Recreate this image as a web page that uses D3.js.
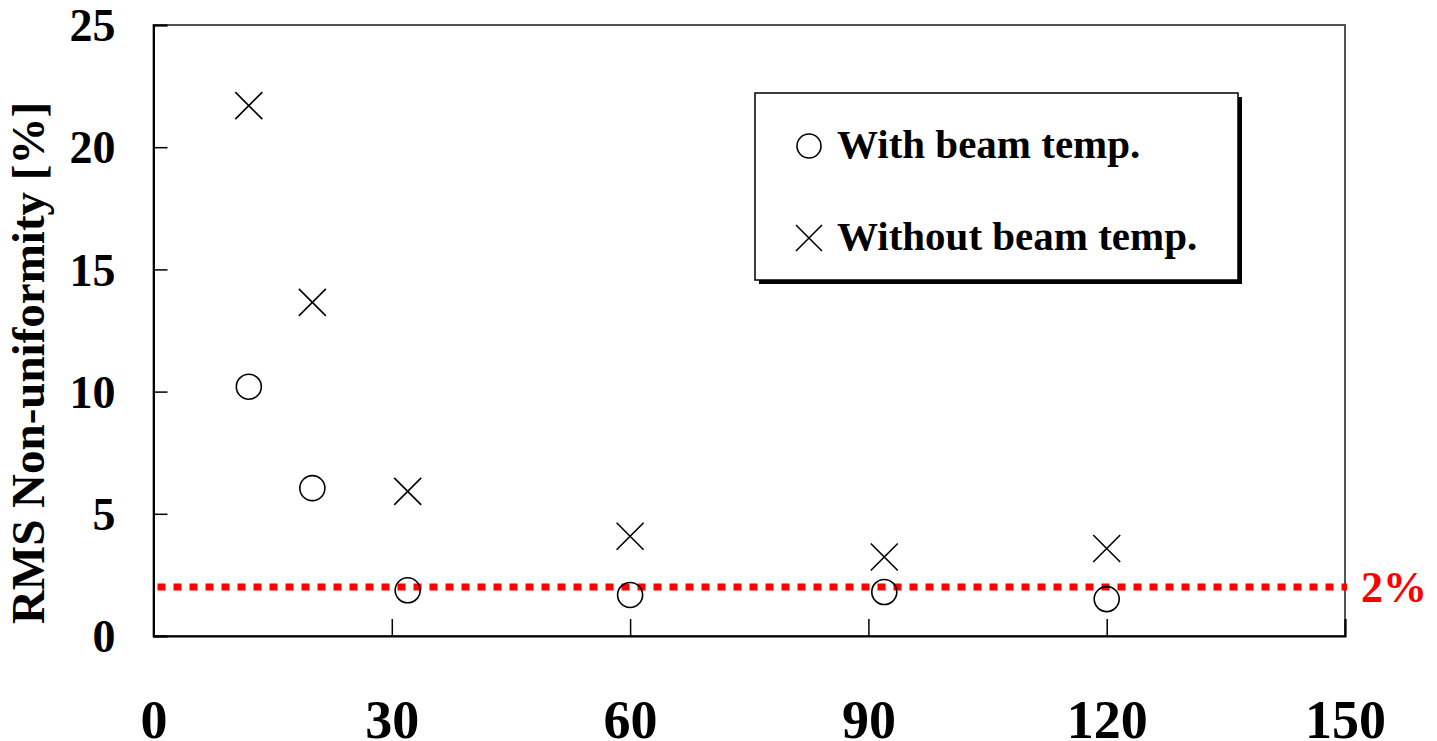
<!DOCTYPE html>
<html lang="en">
<head>
    <meta charset="utf-8">
    <title>RMS Non-uniformity</title>
    <script src="https://d3js.org/d3.v7.min.js" charset="utf-8"></script>
    <style>
        body { margin: 0; background: #fff; }
        svg text { font-family: "Liberation Serif", "Times New Roman", serif; font-weight: bold; }
    </style>
</head>
<body>
<svg></svg>
<script type="text/javascript">
    // data
    var xWith = [12, 20, 32, 60, 92, 120];
    var yWith = [10.2, 6.05, 1.87, 1.68, 1.8, 1.51];
    var xWithout = [12, 20, 32, 60, 92, 120];
    var yWithout = [21.7, 13.65, 5.92, 4.08, 3.23, 3.58];
    var xTicks = [0, 30, 60, 90, 120, 150];
    var yTicks = [0, 5, 10, 15, 20, 25];
    var limit = 2;
    var legendLabels = ["With beam temp.", "Without beam temp."];

    var width = 1437, height = 741;
    var plotL = 153.5, plotR = 1345, plotT = 25, plotB = 636;

    var svg = d3.select("svg").attr("width", width).attr("height", height);

    var x = d3.scaleLinear().domain([0, 150]).range([plotL, plotR]);
    var y = d3.scaleLinear().domain([0, 25]).range([plotB, plotT]);

    // frame
    svg.append("rect")
        .attr("x", plotL).attr("y", plotT)
        .attr("width", plotR - plotL).attr("height", plotB - plotT)
        .style("fill", "none").style("stroke", "#555").style("stroke-width", 2);

    // y axis, ticks inside
    var yAxis = d3.axisLeft(y).tickValues(yTicks).tickSize(-14).tickPadding(38);
    var gy = svg.append("g").attr("transform", "translate(" + plotL + ",0)").call(yAxis);
    gy.select(".domain").style("stroke", "#000").style("stroke-width", 2);
    gy.selectAll(".tick line").style("stroke", "#000").style("stroke-width", 1.5);
    gy.selectAll(".tick text").style("font-size", "46px").attr("fill", "#000")
        .attr("font-family", null).attr("dy", "0.34em");

    // x axis, ticks inside
    var xAxis = d3.axisBottom(x).tickValues(xTicks).tickSize(-17).tickPadding(0);
    var gx = svg.append("g").attr("transform", "translate(0," + plotB + ")").call(xAxis);
    gx.select(".domain").style("stroke", "#000").style("stroke-width", 2);
    gx.selectAll(".tick line").style("stroke", "#000").style("stroke-width", 1.5);
    gx.selectAll(".tick text").style("font-size", "54px").attr("fill", "#000")
        .attr("font-family", null).attr("y", 102).attr("dy", 0);

    // y label
    svg.append("text")
        .attr("transform", "translate(44," + 363 + ") rotate(-90)")
        .attr("text-anchor", "middle")
        .style("font-size", "47px")
        .text("RMS Non-uniformity [%]");

    // 2% threshold line
    svg.append("line")
        .attr("x1", plotL + 4).attr("x2", plotR + 2)
        .attr("y1", y(limit)).attr("y2", y(limit))
        .style("stroke", "#ff0000").style("stroke-width", 7)
        .style("stroke-dasharray", "8,8");
    svg.append("text")
        .attr("x", 1361).attr("y", 602)
        .attr("fill", "#ff0000")
        .style("font-size", "44px")
        .text(limit + "%");

    // markers
    var withData = xWith.map(function (d, i) { return { x: d, y: yWith[i] }; });
    var withoutData = xWithout.map(function (d, i) { return { x: d, y: yWithout[i] }; });

    svg.selectAll("circle.with").data(withData).enter()
        .append("circle")
        .attr("class", "with")
        .attr("cx", function (d) { return x(d.x); })
        .attr("cy", function (d) { return y(d.y); })
        .attr("r", 12.5)
        .style("fill", "none").style("stroke", "#000").style("stroke-width", 1.6);

    var cross = "M-13.5,-13.5L13.5,13.5M-13.5,13.5L13.5,-13.5";
    svg.selectAll("path.without").data(withoutData).enter()
        .append("path")
        .attr("class", "without")
        .attr("transform", function (d) { return "translate(" + x(d.x) + "," + y(d.y) + ")"; })
        .attr("d", cross)
        .style("fill", "none").style("stroke", "#000").style("stroke-width", 1.6);

    // legend
    var lg = svg.append("g");
    lg.append("rect")
        .attr("x", 759).attr("y", 97).attr("width", 483).attr("height", 187)
        .style("fill", "#000");
    lg.append("rect")
        .attr("x", 755).attr("y", 93).attr("width", 483).attr("height", 187)
        .style("fill", "#fff").style("stroke", "#000").style("stroke-width", 1.5);
    lg.append("circle")
        .attr("cx", 809).attr("cy", 146).attr("r", 12)
        .style("fill", "none").style("stroke", "#000").style("stroke-width", 1.6);
    lg.append("path")
        .attr("transform", "translate(809,238)")
        .attr("d", "M-13,-13L13,13M-13,13L13,-13")
        .style("fill", "none").style("stroke", "#000").style("stroke-width", 1.6);
    lg.append("text").attr("x", 837).attr("y", 158).style("font-size", "41px").text(legendLabels[0]);
    lg.append("text").attr("x", 837).attr("y", 250).style("font-size", "41px").text(legendLabels[1]);
</script>
</body>
</html>
